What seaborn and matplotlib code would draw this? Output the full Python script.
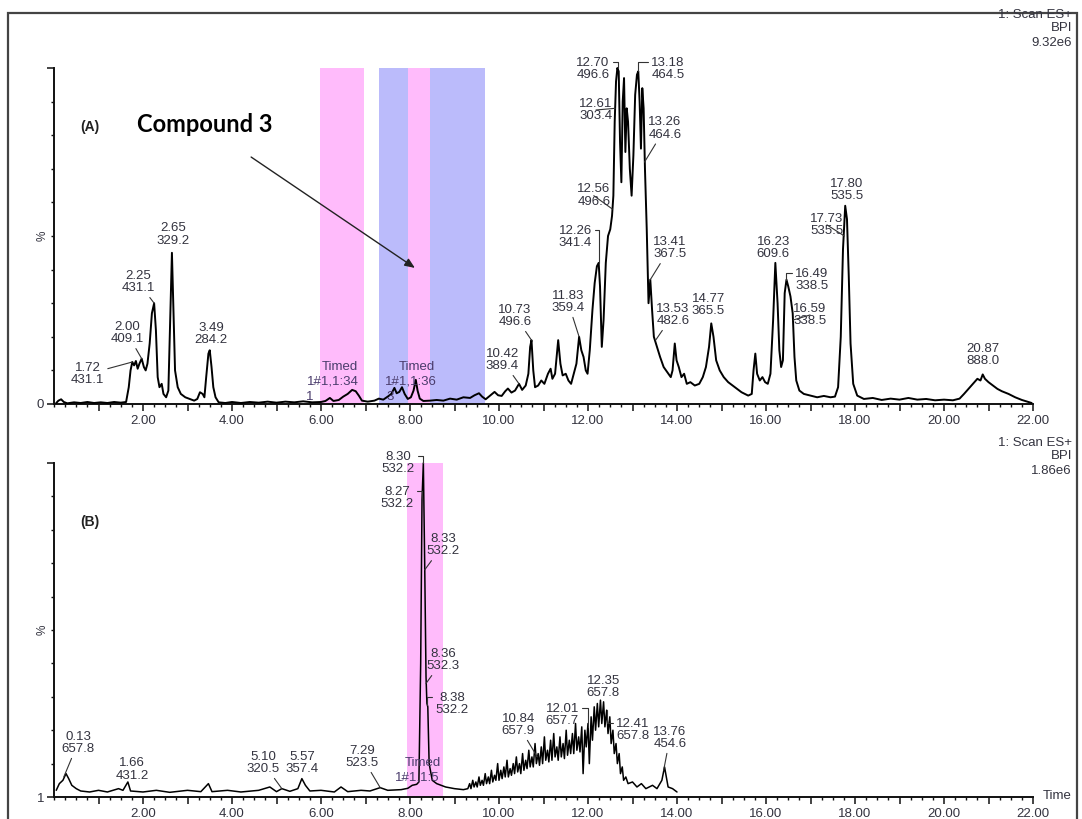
import matplotlib
matplotlib.use("Agg")
import matplotlib.pyplot as plt
import seaborn as sns
import numpy as np
from matplotlib.patches import Rectangle
from matplotlib.ticker import FixedLocator, MultipleLocator

sns.set_style("white")
plt.rcParams['font.family'] = ['Liberation Sans', 'DejaVu Sans']

# ---------------------------------------------------------------- data
# Trace (A): base peak intensity chromatogram, retention time (min) vs relative %
time_a = [0.05, 0.1, 0.16, 0.22, 0.3, 0.45, 0.6, 0.75, 0.9, 1.05, 1.2, 1.35, 1.5, 1.62, 1.68,
          1.72, 1.76, 1.80, 1.84, 1.88, 1.92, 1.97, 2.02, 2.06, 2.10, 2.15, 2.20, 2.25, 2.29,
          2.33, 2.37, 2.42, 2.46, 2.52, 2.57, 2.61, 2.65, 2.68, 2.72, 2.78, 2.85, 2.95, 3.05,
          3.15, 3.22, 3.28, 3.34, 3.38, 3.42, 3.47, 3.50, 3.54, 3.58, 3.63, 3.7, 3.85, 4.0, 4.2,
          4.4, 4.6, 4.8, 5.0, 5.2, 5.4, 5.6, 5.8, 6.0, 6.1, 6.2, 6.28, 6.4, 6.5, 6.6, 6.7, 6.78,
          6.85, 6.92, 7.05, 7.2, 7.3, 7.4, 7.5, 7.58, 7.65, 7.7, 7.76, 7.82, 7.88, 7.95, 8.02,
          8.08, 8.13, 8.17, 8.22, 8.3, 8.45, 8.6, 8.75, 8.9, 9.05, 9.2, 9.35, 9.45, 9.55, 9.62,
          9.7, 9.8, 9.9, 9.98, 10.06, 10.14, 10.2, 10.28, 10.36, 10.45, 10.52, 10.6, 10.66,
          10.70, 10.73, 10.77, 10.81, 10.88, 10.95, 11.02, 11.1, 11.16, 11.2, 11.26, 11.33,
          11.38, 11.43, 11.5, 11.56, 11.62, 11.68, 11.74, 11.8, 11.85, 11.9, 11.95, 11.99,
          12.04, 12.1, 12.15, 12.2, 12.24, 12.27, 12.31, 12.35, 12.40, 12.45, 12.50, 12.54,
          12.57, 12.6, 12.63, 12.66, 12.69, 12.72, 12.75, 12.78, 12.81, 12.84, 12.87, 12.9,
          12.94, 12.98, 13.02, 13.06, 13.1, 13.13, 13.16, 13.19, 13.22, 13.25, 13.28, 13.32,
          13.36, 13.4, 13.44, 13.48, 13.55, 13.62, 13.7, 13.78, 13.86, 13.9, 13.95, 13.99,
          14.04, 14.1, 14.16, 14.22, 14.3, 14.4, 14.5, 14.58, 14.65, 14.72, 14.77, 14.82,
          14.88, 14.96, 15.05, 15.15, 15.3, 15.45, 15.6, 15.68, 15.72, 15.76, 15.8, 15.86,
          15.92, 15.98, 16.04, 16.1, 16.16, 16.21, 16.26, 16.3, 16.34, 16.38, 16.42, 16.46,
          16.5, 16.55, 16.6, 16.64, 16.68, 16.75, 16.85, 17.0, 17.15, 17.3, 17.45, 17.55,
          17.62, 17.68, 17.73, 17.78, 17.82, 17.86, 17.9, 17.96, 18.05, 18.2, 18.4, 18.6,
          18.8, 19.0, 19.2, 19.4, 19.6, 19.8, 20.0, 20.2, 20.35, 20.45, 20.55, 20.65, 20.75,
          20.82, 20.87, 20.92, 21.0, 21.1, 21.2, 21.3, 21.45, 21.6, 21.75, 21.9, 21.97]
pct_a = [0.3, 1.0, 1.4, 0.6, 0.2, 0.5, 0.3, 0.6, 0.3, 0.5, 0.3, 0.6, 0.4, 0.6, 5,
         10, 12.5, 11.5, 12.8, 10.5, 12, 13.5, 11, 10, 12, 18, 27, 30, 22,
         8, 5, 6, 3, 2, 4, 25, 45, 30, 10, 5, 3, 2, 1.5,
         1, 1.5, 3.5, 3, 2, 8, 15, 16, 11, 5, 2, 0.5, 0.3, 0.6, 0.3,
         0.6, 0.4, 0.7, 0.4, 0.7, 0.5, 0.8, 0.5, 0.6, 0.9, 1.8, 0.9, 1.2, 2.2, 3.0, 4.2, 3.8,
         2.5, 1.0, 0.7, 1.0, 1.6, 1.3, 2.2, 3.0, 4.8, 3.2, 3.6, 5.0, 3.0, 1.5, 2.0,
         4.0, 7.2, 4.0, 1.6, 0.9, 1.0, 1.2, 1.0, 1.6, 1.3, 2.0, 1.8, 2.6, 3.2, 2.2,
         1.4, 2.5, 3.6, 2.6, 2.4, 3.8, 4.6, 3.4, 4.0, 6.0, 4.2, 5.5, 9,
         17, 19, 10, 5, 5.5, 7, 6, 9, 10.5, 7.5, 9, 19,
         12, 8.5, 9, 7, 6, 9, 12, 20, 16, 14, 10, 9,
         16, 28, 36, 41, 42, 35, 17, 25, 42, 50, 52, 56,
         62, 84, 96, 100, 99, 78, 66, 90, 97, 75, 88, 84,
         70, 62, 74, 92, 98, 99, 90, 76, 94, 88, 70, 52,
         30, 37, 28, 20, 17, 14, 11, 9.5, 8, 10, 18, 13,
         11, 8, 9, 6, 6.5, 5.5, 6, 8, 11, 17, 24, 20,
         13, 10, 8, 6.5, 5, 3.5, 2.5, 3, 10, 15, 9, 7,
         8, 6.5, 6, 9, 25, 42, 30, 16, 11, 13, 33, 37,
         35, 32, 27, 14, 7, 4, 3, 2.5, 2, 2.4, 2, 2.2,
         5, 20, 46, 59, 55, 38, 18, 6, 2.5, 1.5, 1.8, 1.2,
         1.6, 1.3, 1.8, 1.3, 1.5, 1.1, 1.3, 1.1, 1.6, 3, 4.5, 6, 7.5,
         7, 8.8, 7.5, 6.5, 5.5, 4.5, 3.8, 3, 2, 1.2, 0.6, 0.3]

# Trace (B)
time_b = [0.05, 0.12, 0.2, 0.27, 0.33, 0.4, 0.5, 0.6, 0.8, 1.0, 1.2, 1.45, 1.55, 1.66, 1.72,
          2.0, 2.3, 2.6, 3.0, 3.3, 3.47, 3.55, 3.9, 4.2, 4.6, 4.85, 5.0, 5.12, 5.3, 5.48,
          5.57, 5.65, 5.75, 6.0, 6.3, 6.45, 6.6, 6.9, 7.1, 7.33, 7.5, 7.8, 7.95, 8.05, 8.15,
          8.2, 8.24, 8.27, 8.30, 8.33, 8.36, 8.38, 8.40, 8.43, 8.5, 8.6, 8.8, 9.0, 9.2,
          9.30, 9.34, 9.37, 9.41, 9.44, 9.48, 9.51, 9.55, 9.58, 9.62, 9.65, 9.69, 9.72, 9.76,
          9.79, 9.83, 9.86, 9.90, 9.93, 9.97, 10.00, 10.04, 10.07, 10.11, 10.14, 10.18, 10.21,
          10.25, 10.28, 10.32, 10.35, 10.39, 10.42, 10.46, 10.49, 10.53, 10.56, 10.60, 10.63,
          10.67, 10.70, 10.74, 10.77, 10.81, 10.84, 10.88, 10.91, 10.95, 10.98, 11.02, 11.05,
          11.09, 11.12, 11.16, 11.19, 11.23, 11.26, 11.30, 11.33, 11.37, 11.40, 11.44, 11.47,
          11.51, 11.54, 11.58, 11.61, 11.65, 11.68, 11.72, 11.75, 11.79, 11.82, 11.86, 11.89,
          11.93, 11.96, 12.00, 12.03, 12.07, 12.10, 12.14, 12.17, 12.21, 12.24, 12.28, 12.31,
          12.35, 12.38, 12.42, 12.45, 12.49, 12.52, 12.56, 12.59, 12.63, 12.66, 12.70, 12.73,
          12.77, 12.80, 12.85, 12.9,
          13.0, 13.1, 13.2, 13.3, 13.45, 13.55, 13.66, 13.72, 13.8, 13.9, 14.0]
pct_b = [2, 4, 5, 7, 5.5, 3.5, 2.5, 1.8, 1.5, 2.0, 1.5, 2.5, 2.0, 4.5, 1.8,
         1.5, 2.0, 1.4, 2.0, 1.6, 4.0, 1.6, 2.0, 1.5, 2.0, 3.0, 1.6, 2.5, 1.7, 2.5,
         5.5, 3.5, 1.8, 2.0, 1.5, 3.0, 1.6, 2.0, 1.8, 2.8, 2.0, 2.2, 2.6, 3.5, 3.8,
         4.5, 40, 89, 100, 70, 36, 28, 27, 10, 5, 4, 3, 2.5, 2.2,
         2.5, 4, 2.5, 5, 3, 4.5, 3, 6, 3.5, 5, 3.5, 7, 4, 6,
         4, 8, 4.5, 6.5, 5, 10, 5, 8, 5.5, 9, 6, 11, 6,
         8.5, 6.5, 10, 7, 12, 7.5, 10, 7, 13, 8, 11, 8.5,
         14, 9, 12, 9, 16, 10, 13, 9.5, 15, 10, 18, 11,
         14, 10.5, 17, 11, 19, 12, 15, 11, 18, 12, 16, 11.5,
         20, 12.5, 17, 13, 19, 13, 22, 14, 18, 13.5, 21, 7,
         20, 15, 22, 10, 24, 17, 27, 20, 28, 21, 29, 22,
         28.5, 21, 26, 19, 24, 16, 20, 13, 16, 10, 13, 7,
         9, 5, 6, 4,
         4.5, 3, 4, 2.5, 3.5, 2.5, 5, 9, 3, 2.5, 1.5]

x_tick_values = [2, 4, 6, 8, 10, 12, 14, 16, 18, 20, 22]
x_tick_labels = ["2.00", "4.00", "6.00", "8.00", "10.00", "12.00",
                 "14.00", "16.00", "18.00", "20.00", "22.00"]

# Acquisition windows (min)
bands_a = [(5.98, 6.97, '#FFBBFB'), (7.30, 7.96, '#BBBBFB'),
           (7.96, 8.45, '#FFBBFB'), (8.45, 9.69, '#BBBBFB')]
bands_b = [(7.93, 8.74, '#FFBBFB')]

# Peak labels: text, peak (t, %), label centre (t, %), leader style
labels_a = [
    ("1.72\n431.1", (1.76, 12.5), (0.76, 8.9), "line"),
    ("2.00\n409.1", (1.97, 13.5), (1.64, 21.1), "line"),
    ("2.25\n431.1", (2.25, 30), (1.89, 36.3), "line"),
    ("2.65\n329.2", (2.65, 45), (2.67, 50.5), "none"),
    ("3.49\n284.2", (3.50, 16), (3.53, 20.8), "none"),
    ("10.42\n389.4", (10.45, 6), (10.07, 13.1), "line"),
    ("10.73\n496.6", (10.73, 19), (10.36, 26.2), "line"),
    ("11.83\n359.4", (11.80, 20), (11.55, 30.4), "line"),
    ("12.26\n341.4", (12.24, 42), (11.71, 49.7), "right"),
    ("12.56\n496.6", (12.55, 58), (12.13, 62.0), "line"),
    ("12.61\n303.4", (12.61, 88), (12.18, 87.5), "line"),
    ("12.70\n496.6", (12.67, 100), (12.11, 99.7), "right"),
    ("13.18\n464.5", (13.13, 99), (13.80, 99.7), "left"),
    ("13.26\n464.6", (13.27, 72), (13.73, 82.0), "line"),
    ("13.41\n367.5", (13.40, 37), (13.84, 46.4), "line"),
    ("13.53\n482.6", (13.52, 19), (13.91, 26.5), "line"),
    ("14.77\n365.5", (14.77, 24), (14.70, 29.5), "none"),
    ("16.23\n609.6", (16.21, 42), (16.16, 46.4), "none"),
    ("16.49\n338.5", (16.46, 37), (17.03, 36.9), "left"),
    ("16.59\n338.5", (16.61, 25), (16.99, 26.5), "line"),
    ("17.73\n535.5", (17.76, 50), (17.37, 53.3), "line"),
    ("17.80\n535.5", (17.79, 59), (17.82, 63.7), "none"),
    ("20.87\n888.0", (20.87, 8.8), (20.88, 14.6), "none"),
]
labels_b = [
    ("0.13\n657.8", (0.22, 6), (0.54, 16.2), "line"),
    ("1.66\n431.2", (1.66, 4.5), (1.75, 8.3), "none"),
    ("5.10\n320.5", (5.12, 2.5), (4.70, 10.2), "line"),
    ("5.57\n357.4", (5.57, 5.5), (5.57, 10.2), "none"),
    ("7.29\n523.5", (7.33, 2.8), (6.92, 12.0), "line"),
    ("8.30\n532.2", (8.30, 100), (7.73, 100.0), "right"),
    ("8.27\n532.2", (8.27, 89), (7.71, 89.5), "right"),
    ("8.33\n532.2", (8.33, 68), (8.74, 75.4), "line"),
    ("8.36\n532.3", (8.36, 34), (8.74, 41.0), "line"),
    ("8.38\n532.2", (8.39, 27.5), (8.94, 27.8), "left"),
    ("10.84\n657.9", (10.86, 12), (10.43, 21.6), "line"),
    ("12.01\n657.7", (12.0, 21), (11.42, 24.6), "right"),
    ("12.35\n657.8", (12.35, 28.5), (12.34, 33.0), "none"),
    ("12.41\n657.8", (12.42, 26), (13.01, 20.0), "left"),
    ("13.76\n454.6", (13.70, 8), (13.84, 17.7), "line"),
]

# ---------------------------------------------------------------- layout
W, H = 1082, 819
fig = plt.figure(figsize=(W / 100, H / 100), dpi=100)


def box(x0, y_top, x1, y_bot):
    return [x0 / W, 1 - y_bot / H, (x1 - x0) / W, (y_bot - y_top) / H]


ax_a = fig.add_axes(box(54, 68, 1033, 404))
ax_b = fig.add_axes(box(54, 463, 1033, 797))

TXT = '#33333f'
LBL = 9.5


def style_axis(ax, base_label):
    ax.set_xlim(0, 22)
    ax.set_ylim(0, 100)
    ax.patch.set_alpha(0)
    for s in ('top', 'right'):
        ax.spines[s].set_visible(False)
    for s in ('left', 'bottom'):
        ax.spines[s].set_linewidth(1.4)
        ax.spines[s].set_color('#111111')
    ax.xaxis.set_major_locator(FixedLocator(list(range(1, 23))))
    ax.set_xticklabels([x_tick_labels[x_tick_values.index(v)] if v in x_tick_values else ""
                        for v in range(1, 23)])
    ax.xaxis.set_minor_locator(MultipleLocator(0.25))
    ax.yaxis.set_major_locator(FixedLocator([0, 100]))
    ax.set_yticklabels([base_label, ""])
    ax.yaxis.set_minor_locator(MultipleLocator(10))
    ax.tick_params(axis='both', which='both', bottom=True, left=True, top=False, right=False)
    ax.tick_params(axis='both', which='major', direction='out', length=5, width=1.1,
                   color='#111111', labelsize=LBL, labelcolor=TXT, pad=2)
    ax.tick_params(axis='both', which='minor', direction='out', length=2.5, width=1.0,
                   color='#111111')
    ax.tick_params(axis='x', which='major', pad=3)
    ax.text(-0.0112, 0.5, "%", transform=ax.transAxes, rotation=90, ha='center',
            va='center', fontsize=LBL - 1, color=TXT)
    ax.set_xlabel("")
    ax.set_ylabel("")


def draw_labels(ax, items):
    for text, peak, pos, kind in items:
        common = dict(ha='center', va='center', fontsize=LBL, color=TXT,
                      linespacing=1.05, zorder=5)
        if kind == "none":
            ax.text(pos[0], pos[1], text, **common)
            continue
        props = dict(arrowstyle='-', lw=0.8, color='#333333', shrinkA=0, shrinkB=0)
        if kind == "right":
            props.update(connectionstyle="angle,angleA=0,angleB=90,rad=0", relpos=(1.0, 0.8))
        elif kind == "left":
            props.update(connectionstyle="angle,angleA=0,angleB=90,rad=0", relpos=(0.0, 0.8))
        ax.annotate(text, xy=peak, xytext=pos, arrowprops=props, **common)


style_axis(ax_a, "0")
style_axis(ax_b, "1")

for lo, hi, c in bands_a:
    ax_a.axvspan(lo, hi, ymin=0, ymax=1, color=c, lw=0, zorder=0)
for lo, hi, c in bands_b:
    ax_b.axvspan(lo, hi, ymin=0, ymax=1, color=c, lw=0, zorder=0)

sns.lineplot(x=time_a, y=pct_a, ax=ax_a, color='black', lw=1.4, estimator=None,
             sort=False, zorder=3, clip_on=False)
sns.lineplot(x=time_b, y=pct_b, ax=ax_b, color='black', lw=1.1, estimator=None,
             sort=False, zorder=3, clip_on=False)

draw_labels(ax_a, labels_a)
draw_labels(ax_b, labels_b)

# Acquisition-function markers
TIMED = '#4a3c6c'
for ax, entries in ((ax_a, [("Timed", 6.43, 11.0), ("1#1,1:34", 6.27, 6.6), ("1", 5.75, 2.1),
                            ("Timed", 8.16, 11.0), ("1#1,1:36", 8.02, 6.6), ("3", 7.55, 2.1)]),
                    (ax_b, [("Timed", 8.29, 10.2), ("1#1,1:5", 8.16, 5.8)])):
    for s, t, p in entries:
        ax.text(t, p, s, ha='center', va='center', fontsize=LBL, color=TIMED, zorder=4)

# Panel tags and compound pointer
fig.text(80 / W, 1 - 127 / H, "(A)", ha='left', va='center', fontsize=10,
         fontweight='bold', color='#222222')
fig.text(80 / W, 1 - 522 / H, "(B)", ha='left', va='center', fontsize=10,
         fontweight='bold', color='#222222')
fig.text(137 / W, 1 - 125 / H, "Compound 3", ha='left', va='center', fontsize=17,
         fontweight='bold', family=['Lato', 'DejaVu Sans'], color='black')
ax_a.annotate("", xy=(8.11, 40.5), xytext=(4.43, 73.5),
              arrowprops=dict(arrowstyle='-|>,head_length=0.6,head_width=0.25',
                              lw=1.0, color='#222222', shrinkA=0, shrinkB=0), zorder=6)

# Trace headers
for y0, scale in ((15, "9.32e6"), (443, "1.86e6")):
    fig.text(1072 / W, 1 - y0 / H, "1: Scan ES+", ha='right', va='center',
             fontsize=LBL, color=TXT)
    fig.text(1072 / W, 1 - (y0 + 13) / H, "BPI", ha='right', va='center',
             fontsize=LBL, color=TXT)
    fig.text(1072 / W, 1 - (y0 + 28) / H, scale, ha='right', va='center',
             fontsize=LBL, color=TXT)
fig.text(1057 / W, 1 - 796 / H, "Time", ha='center', va='center', fontsize=LBL, color=TXT)

# Outer frame
fig.add_artist(Rectangle((8 / W, -0.02), (1077 - 8) / W, 1.02 - 13 / H,
                         transform=fig.transFigure, fill=False, ec='#444444', lw=1.6))

fig.savefig("out.png", dpi=100)
